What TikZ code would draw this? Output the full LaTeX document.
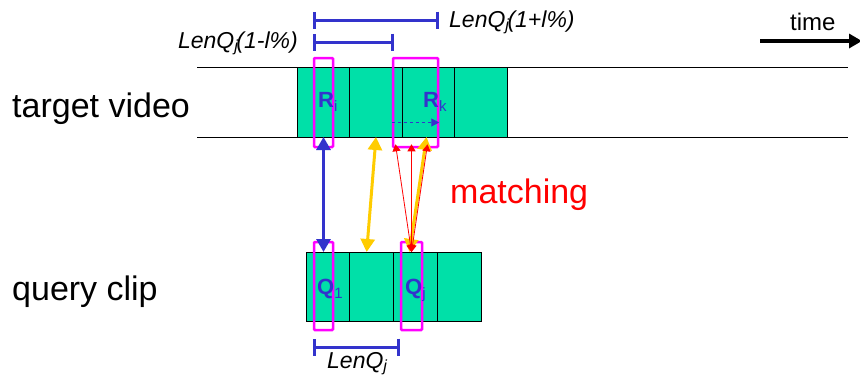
\documentclass[tikz,border=0pt]{standalone}
\usepackage{fontspec}
\setmainfont{Liberation Sans}
\usepackage{xcolor}
\usepackage{tikz}
\usetikzlibrary{arrows.meta,positioning}
\definecolor{mvGreen}  {RGB}{  0,224,168}
\definecolor{mvBlue}   {RGB}{ 51, 51,204}
\definecolor{mvMagenta}{RGB}{255,  0,255}
\definecolor{mvYellow} {RGB}{255,204,  0}
\definecolor{mvRed}    {RGB}{255,  0,  0}
\newcommand{\lowsub}[1]{\raisebox{-4pt}{\fontsize{15}{15}\selectfont\mdseries #1}}

\begin{document}
\begin{tikzpicture}[
  x=1pt,y=-1pt,
  seg/.style={draw=black,fill=mvGreen,line width=0.7pt,inner sep=0,outer sep=0,
              minimum width=52.5pt,minimum height=70pt},
  qseg/.style={seg,minimum width=43.75pt,minimum height=69pt},
  pick/.style={draw=mvMagenta,line width=2.5pt,rounded corners=1pt,inner sep=0,
               minimum width=19pt,minimum height=89pt},
  tag/.style={font=\fontsize{22}{22}\selectfont\bfseries,text=mvBlue,inner sep=0,anchor=base west},
  side/.style={font=\fontsize{34}{34}\selectfont,inner sep=0,anchor=base west},
  lentext/.style={font=\fontsize{23}{23}\selectfont\itshape,inner sep=0},
  lenbar/.style={draw=mvBlue,line width=3pt,{Bar[width=17pt,line width=3pt]}-{Bar[width=17pt,line width=3pt]}},
  pair/.style={line width=3pt,{Triangle[length=13pt,width=14pt]}-{Triangle[length=13pt,width=14pt]}},
  hit/.style={mvRed,line width=0.8pt,{Triangle[length=7pt,width=8pt]}-{Triangle[length=7pt,width=8pt]}},
]
\useasboundingbox (0,0) rectangle (860,378);

% target video
\draw[line width=0.7pt] (197,67) -- (848,67);
\draw[line width=0.7pt] (197,137) -- (848,137);
\node[seg] (tv1) at (323.5,102) {};
\node[seg,right=0pt of tv1] (tv2) {};
\node[seg,right=0pt of tv2] (tv3) {};
\node[seg,right=0pt of tv3] (tv4) {};

% query clip
\node[qseg] (qc1) at (327.9,286.5) {};
\node[qseg,right=0pt of qc1] (qc2) {};
\node[qseg,right=0pt of qc2] (qc3) {};
\node[qseg,right=0pt of qc3] (qc4) {};

\node[side] (tvlab) at (12,117) {target video};
\node[side] (qclab) at (12,300) {query clip};
\node[side,text=mvRed] (match) at (450,203) {matching};

% selected segments
\node[pick] (ri) at (323.5,102.5) {};
\node[pick,minimum width=45pt] (rk) at (415.5,102.5) {};
\node[pick,minimum height=88pt] (q1) at (323.5,286) {};
\node[pick,minimum width=21pt,minimum height=88pt] (qj) at (411.5,286) {};

\node[tag] (rilab) at (318,107) {R\lowsub{i}};
\node[tag] (rklab) at (423,107) {R\lowsub{k}};
\node[tag] (q1lab) at (317,294) {Q\lowsub{1}};
\node[tag] (qjlab) at (405,294) {Q\lowsub{j}};

\draw[mvBlue,line width=1pt,dashed,-{Triangle[length=8pt,width=8pt]}]
  ([yshift=-20pt]rk.west) -- ([yshift=-20pt]rk.east);

% matches
\draw[pair,mvBlue] (ri |- tv1.south) -- (q1 |- qc1.north);
\draw[pair,mvYellow] (tv2.south) -- ([xshift=-5pt]qc2.north);
\draw[pair,mvYellow] ([xshift=-2pt]tv3.south) -- ([xshift=-6pt]qc3.north);
\coordinate (mq) at (qj |- qc3.north);
\coordinate (rt) at (qj |- rk.south);
\foreach \dx in {-16,0,16}
  \draw[hit] (mq) -- ([xshift=\dx pt,yshift=4pt]rt);

% lengths
\coordinate (bar1) at (0,20);
\coordinate (bar2) at (0,42);
\coordinate (bar3) at (0,347);
\draw[lenbar] (ri.west |- bar1) -- (rk.east |- bar1);
\draw[lenbar] (ri.west |- bar2) -- (qc3.west |- bar2);
\draw[lenbar] (q1.west |- bar3) -- (qj.west |- bar3);
\node[lentext,anchor=base west] (len1) at (449,27) {LenQ\textsubscript{j}\kern-2pt(1+l\%)};
\node[lentext,anchor=base east] (len2) at (298,48) {LenQ\textsubscript{j}\kern-2pt(1-l\%)};
\node[lentext,anchor=base west] (len3) at (327,368) {LenQ\textsubscript{j}};

% time
\coordinate (t0) at (760,41);
\coordinate (t1) at (862,41);
\draw[line width=4pt,-{Triangle[length=13pt,width=14pt]}] (t0) -- (t1);
\node[font=\fontsize{24}{24}\selectfont,inner sep=0,anchor=base west] (time) at (790,30) {time};
\end{tikzpicture}
\end{document}
